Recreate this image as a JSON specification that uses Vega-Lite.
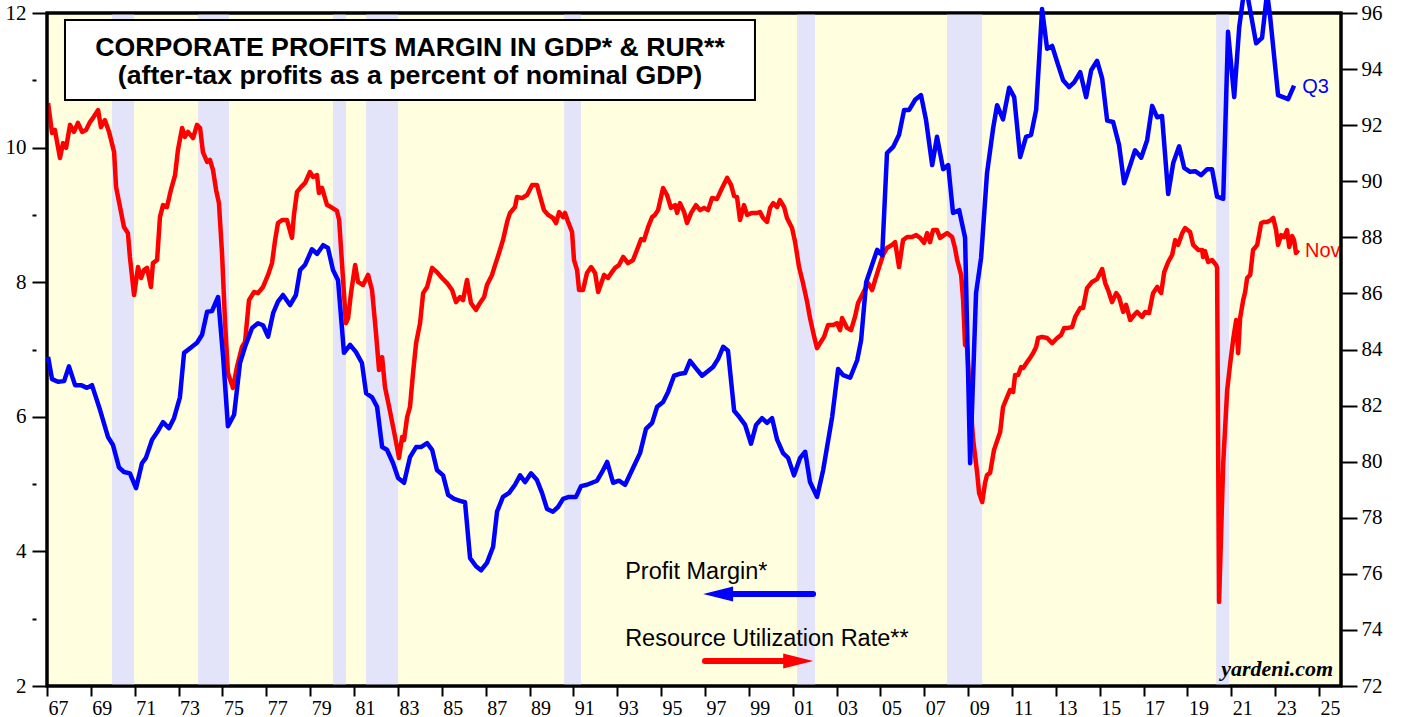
{
"$schema": "https://vega.github.io/schema/vega-lite/v6.json",
"width": 1294, "height": 673,
"autosize": {"type": "none"},
"padding": {"left": 47, "top": 13, "right": 62, "bottom": 31},
"background": "white",
"config": {"view": {"fill": "#ffffe0", "stroke": "black", "strokeWidth": 3}},
"datasets": {
"rec": [
{"start": 1969.96, "end": 1970.97},
{"start": 1973.89, "end": 1975.30},
{"start": 1980.04, "end": 1980.63},
{"start": 1981.55, "end": 1983.01},
{"start": 1990.58, "end": 1991.35},
{"start": 2001.20, "end": 2002.02},
{"start": 2008.04, "end": 2009.64},
{"start": 2020.31, "end": 2020.90}
],
"pm": [
{"t":1967.05,"v":6.89},{"t":1967.23,"v":6.56},{"t":1967.50,"v":6.52},{"t":1967.78,"v":6.53},{"t":1968.00,"v":6.75},{"t":1968.28,"v":6.47},{"t":1968.55,"v":6.47},{"t":1968.82,"v":6.43},{"t":1969.05,"v":6.47},{"t":1969.42,"v":6.10},{"t":1969.78,"v":5.70},{"t":1970.01,"v":5.58},{"t":1970.28,"v":5.25},{"t":1970.51,"v":5.18},{"t":1970.78,"v":5.16},{"t":1971.06,"v":4.94},{"t":1971.33,"v":5.31},{"t":1971.51,"v":5.39},{"t":1971.79,"v":5.66},{"t":1972.02,"v":5.77},{"t":1972.29,"v":5.92},{"t":1972.56,"v":5.83},{"t":1972.79,"v":5.98},{"t":1973.06,"v":6.29},{"t":1973.25,"v":6.95},{"t":1973.61,"v":7.04},{"t":1973.84,"v":7.10},{"t":1974.07,"v":7.22},{"t":1974.30,"v":7.56},{"t":1974.52,"v":7.57},{"t":1974.80,"v":7.78},{"t":1975.03,"v":6.89},{"t":1975.25,"v":5.86},{"t":1975.53,"v":6.03},{"t":1975.80,"v":6.80},{"t":1976.03,"v":7.04},{"t":1976.35,"v":7.32},{"t":1976.62,"v":7.39},{"t":1976.85,"v":7.36},{"t":1977.08,"v":7.19},{"t":1977.31,"v":7.54},{"t":1977.53,"v":7.71},{"t":1977.76,"v":7.81},{"t":1978.08,"v":7.66},{"t":1978.35,"v":7.81},{"t":1978.54,"v":8.18},{"t":1978.77,"v":8.26},{"t":1979.08,"v":8.49},{"t":1979.31,"v":8.42},{"t":1979.59,"v":8.55},{"t":1979.81,"v":8.51},{"t":1980.04,"v":8.18},{"t":1980.27,"v":8.03},{"t":1980.54,"v":6.95},{"t":1980.82,"v":7.07},{"t":1981.09,"v":6.96},{"t":1981.36,"v":6.80},{"t":1981.55,"v":6.35},{"t":1981.82,"v":6.29},{"t":1982.05,"v":6.15},{"t":1982.28,"v":5.55},{"t":1982.50,"v":5.51},{"t":1982.78,"v":5.31},{"t":1983.01,"v":5.09},{"t":1983.28,"v":5.02},{"t":1983.55,"v":5.40},{"t":1983.83,"v":5.55},{"t":1984.05,"v":5.55},{"t":1984.33,"v":5.61},{"t":1984.56,"v":5.51},{"t":1984.78,"v":5.21},{"t":1985.06,"v":5.13},{"t":1985.29,"v":4.84},{"t":1985.56,"v":4.78},{"t":1985.83,"v":4.75},{"t":1986.06,"v":4.73},{"t":1986.29,"v":3.90},{"t":1986.56,"v":3.78},{"t":1986.79,"v":3.72},{"t":1987.06,"v":3.83},{"t":1987.34,"v":4.07},{"t":1987.52,"v":4.59},{"t":1987.79,"v":4.81},{"t":1988.07,"v":4.87},{"t":1988.34,"v":4.99},{"t":1988.57,"v":5.13},{"t":1988.80,"v":5.03},{"t":1989.07,"v":5.16},{"t":1989.34,"v":5.06},{"t":1989.57,"v":4.87},{"t":1989.80,"v":4.63},{"t":1990.07,"v":4.59},{"t":1990.30,"v":4.66},{"t":1990.53,"v":4.78},{"t":1990.80,"v":4.81},{"t":1991.12,"v":4.81},{"t":1991.35,"v":4.97},{"t":1991.62,"v":4.99},{"t":1991.85,"v":5.02},{"t":1992.08,"v":5.05},{"t":1992.31,"v":5.18},{"t":1992.54,"v":5.33},{"t":1992.81,"v":5.02},{"t":1993.08,"v":5.05},{"t":1993.36,"v":4.99},{"t":1993.72,"v":5.24},{"t":1994.04,"v":5.46},{"t":1994.31,"v":5.82},{"t":1994.59,"v":5.91},{"t":1994.82,"v":6.15},{"t":1995.09,"v":6.22},{"t":1995.32,"v":6.37},{"t":1995.59,"v":6.61},{"t":1995.87,"v":6.64},{"t":1996.09,"v":6.65},{"t":1996.32,"v":6.83},{"t":1996.59,"v":6.72},{"t":1996.87,"v":6.61},{"t":1997.10,"v":6.67},{"t":1997.37,"v":6.74},{"t":1997.60,"v":6.86},{"t":1997.83,"v":7.04},{"t":1998.05,"v":6.98},{"t":1998.33,"v":6.09},{"t":1998.56,"v":6.00},{"t":1998.83,"v":5.88},{"t":1999.10,"v":5.60},{"t":1999.33,"v":5.88},{"t":1999.60,"v":5.98},{"t":1999.83,"v":5.91},{"t":2000.06,"v":5.98},{"t":2000.29,"v":5.66},{"t":2000.56,"v":5.46},{"t":2000.79,"v":5.39},{"t":2001.06,"v":5.13},{"t":2001.34,"v":5.39},{"t":2001.57,"v":5.48},{"t":2001.79,"v":5.03},{"t":2002.11,"v":4.81},{"t":2002.39,"v":5.21},{"t":2002.80,"v":6.00},{"t":2003.07,"v":6.71},{"t":2003.30,"v":6.62},{"t":2003.62,"v":6.58},{"t":2003.94,"v":6.84},{"t":2004.12,"v":7.14},{"t":2004.35,"v":8.00},{"t":2004.85,"v":8.48},{"t":2005.08,"v":8.40},{"t":2005.30,"v":9.92},{"t":2005.58,"v":10.01},{"t":2005.85,"v":10.19},{"t":2006.08,"v":10.56},{"t":2006.31,"v":10.56},{"t":2006.58,"v":10.71},{"t":2006.85,"v":10.78},{"t":2007.08,"v":10.41},{"t":2007.36,"v":9.74},{"t":2007.58,"v":10.16},{"t":2007.86,"v":9.68},{"t":2008.09,"v":9.74},{"t":2008.31,"v":9.03},{"t":2008.59,"v":9.07},{"t":2008.86,"v":8.66},{"t":2009.09,"v":5.31},{"t":2009.36,"v":7.84},{"t":2009.59,"v":8.36},{"t":2009.86,"v":9.62},{"t":2010.14,"v":10.29},{"t":2010.32,"v":10.63},{"t":2010.59,"v":10.42},{"t":2010.87,"v":10.89},{"t":2011.10,"v":10.75},{"t":2011.37,"v":9.86},{"t":2011.64,"v":10.16},{"t":2011.87,"v":10.19},{"t":2012.10,"v":10.56},{"t":2012.37,"v":12.06},{"t":2012.60,"v":11.47},{"t":2012.83,"v":11.51},{"t":2013.10,"v":11.23},{"t":2013.33,"v":11.00},{"t":2013.60,"v":10.90},{"t":2013.83,"v":10.97},{"t":2014.11,"v":11.12},{"t":2014.38,"v":10.75},{"t":2014.61,"v":11.15},{"t":2014.88,"v":11.29},{"t":2015.11,"v":11.03},{"t":2015.34,"v":10.40},{"t":2015.61,"v":10.38},{"t":2015.88,"v":10.04},{"t":2016.11,"v":9.47},{"t":2016.39,"v":9.74},{"t":2016.61,"v":9.96},{"t":2016.89,"v":9.85},{"t":2017.16,"v":10.11},{"t":2017.39,"v":10.62},{"t":2017.62,"v":10.45},{"t":2017.84,"v":10.47},{"t":2018.12,"v":9.31},{"t":2018.35,"v":9.77},{"t":2018.62,"v":10.02},{"t":2018.85,"v":9.70},{"t":2019.12,"v":9.64},{"t":2019.35,"v":9.65},{"t":2019.62,"v":9.59},{"t":2019.90,"v":9.68},{"t":2020.12,"v":9.68},{"t":2020.35,"v":9.27},{"t":2020.63,"v":9.24},{"t":2020.85,"v":11.72},{"t":2021.13,"v":10.75},{"t":2021.36,"v":11.79},{"t":2021.63,"v":12.45},{"t":2021.86,"v":12.04},{"t":2022.13,"v":11.55},{"t":2022.40,"v":11.63},{"t":2022.63,"v":12.30},{"t":2022.77,"v":11.94},{"t":2023.13,"v":10.78},{"t":2023.36,"v":10.75},{"t":2023.59,"v":10.72},{"t":2023.86,"v":10.92}
],
"rur": [
{"t":1967.05,"v":92.79},{"t":1967.23,"v":91.72},{"t":1967.36,"v":91.83},{"t":1967.59,"v":90.83},{"t":1967.73,"v":91.36},{"t":1967.87,"v":91.19},{"t":1968.05,"v":92.01},{"t":1968.23,"v":91.76},{"t":1968.41,"v":92.08},{"t":1968.60,"v":91.76},{"t":1968.78,"v":91.83},{"t":1968.96,"v":92.11},{"t":1969.10,"v":92.26},{"t":1969.33,"v":92.54},{"t":1969.46,"v":91.93},{"t":1969.64,"v":92.18},{"t":1969.83,"v":91.76},{"t":1970.06,"v":91.04},{"t":1970.15,"v":89.79},{"t":1970.33,"v":89.08},{"t":1970.51,"v":88.37},{"t":1970.69,"v":88.15},{"t":1970.78,"v":87.30},{"t":1970.97,"v":85.94},{"t":1971.15,"v":86.94},{"t":1971.29,"v":86.55},{"t":1971.42,"v":86.83},{"t":1971.56,"v":86.91},{"t":1971.74,"v":86.23},{"t":1971.83,"v":87.08},{"t":1972.02,"v":87.19},{"t":1972.15,"v":88.72},{"t":1972.29,"v":89.15},{"t":1972.47,"v":89.08},{"t":1972.65,"v":89.69},{"t":1972.84,"v":90.22},{"t":1972.97,"v":91.11},{"t":1973.16,"v":91.90},{"t":1973.29,"v":91.58},{"t":1973.43,"v":91.76},{"t":1973.66,"v":91.54},{"t":1973.84,"v":92.01},{"t":1973.98,"v":91.90},{"t":1974.11,"v":91.04},{"t":1974.30,"v":90.69},{"t":1974.43,"v":90.76},{"t":1974.57,"v":90.40},{"t":1974.71,"v":89.69},{"t":1974.84,"v":89.22},{"t":1974.98,"v":87.44},{"t":1975.12,"v":84.94},{"t":1975.25,"v":83.16},{"t":1975.48,"v":82.63},{"t":1975.66,"v":83.37},{"t":1975.89,"v":84.09},{"t":1976.03,"v":84.27},{"t":1976.21,"v":85.76},{"t":1976.44,"v":86.05},{"t":1976.62,"v":86.01},{"t":1976.85,"v":86.23},{"t":1977.08,"v":86.66},{"t":1977.26,"v":87.08},{"t":1977.40,"v":87.90},{"t":1977.53,"v":88.51},{"t":1977.72,"v":88.62},{"t":1977.94,"v":88.62},{"t":1978.17,"v":87.98},{"t":1978.26,"v":88.80},{"t":1978.40,"v":89.62},{"t":1978.58,"v":89.79},{"t":1978.77,"v":89.94},{"t":1978.99,"v":90.33},{"t":1979.13,"v":90.15},{"t":1979.31,"v":90.22},{"t":1979.40,"v":89.58},{"t":1979.54,"v":89.76},{"t":1979.77,"v":89.15},{"t":1979.95,"v":89.08},{"t":1980.22,"v":88.94},{"t":1980.32,"v":88.62},{"t":1980.50,"v":86.48},{"t":1980.63,"v":84.94},{"t":1980.73,"v":85.12},{"t":1980.86,"v":86.01},{"t":1981.05,"v":87.01},{"t":1981.18,"v":86.41},{"t":1981.41,"v":86.30},{"t":1981.64,"v":86.66},{"t":1981.82,"v":86.12},{"t":1982.00,"v":84.59},{"t":1982.14,"v":83.27},{"t":1982.28,"v":83.73},{"t":1982.41,"v":82.66},{"t":1982.60,"v":81.95},{"t":1982.78,"v":81.24},{"t":1982.96,"v":80.52},{"t":1983.05,"v":80.13},{"t":1983.19,"v":80.88},{"t":1983.28,"v":80.77},{"t":1983.42,"v":81.59},{"t":1983.55,"v":81.95},{"t":1983.69,"v":83.16},{"t":1983.83,"v":84.23},{"t":1984.01,"v":84.94},{"t":1984.15,"v":86.01},{"t":1984.33,"v":86.23},{"t":1984.56,"v":86.91},{"t":1984.78,"v":86.76},{"t":1985.01,"v":86.55},{"t":1985.24,"v":86.37},{"t":1985.47,"v":86.12},{"t":1985.65,"v":85.69},{"t":1985.83,"v":85.87},{"t":1985.97,"v":85.76},{"t":1986.15,"v":86.48},{"t":1986.33,"v":85.66},{"t":1986.56,"v":85.41},{"t":1986.74,"v":85.66},{"t":1986.93,"v":85.87},{"t":1987.06,"v":86.30},{"t":1987.29,"v":86.66},{"t":1987.43,"v":87.01},{"t":1987.61,"v":87.44},{"t":1987.79,"v":87.90},{"t":1987.98,"v":88.55},{"t":1988.11,"v":88.87},{"t":1988.34,"v":89.08},{"t":1988.43,"v":89.44},{"t":1988.66,"v":89.40},{"t":1988.89,"v":89.51},{"t":1989.12,"v":89.87},{"t":1989.34,"v":89.87},{"t":1989.53,"v":89.33},{"t":1989.66,"v":88.97},{"t":1989.85,"v":88.80},{"t":1990.07,"v":88.69},{"t":1990.21,"v":88.51},{"t":1990.35,"v":88.90},{"t":1990.53,"v":88.72},{"t":1990.62,"v":88.87},{"t":1990.76,"v":88.55},{"t":1990.94,"v":88.19},{"t":1991.03,"v":87.19},{"t":1991.17,"v":86.83},{"t":1991.26,"v":86.12},{"t":1991.44,"v":86.12},{"t":1991.62,"v":86.73},{"t":1991.81,"v":86.94},{"t":1991.99,"v":86.73},{"t":1992.13,"v":86.05},{"t":1992.40,"v":86.66},{"t":1992.58,"v":86.55},{"t":1992.76,"v":86.76},{"t":1992.90,"v":86.91},{"t":1993.08,"v":87.01},{"t":1993.27,"v":87.30},{"t":1993.49,"v":87.08},{"t":1993.72,"v":87.19},{"t":1993.90,"v":87.55},{"t":1994.09,"v":87.94},{"t":1994.22,"v":87.90},{"t":1994.41,"v":88.37},{"t":1994.59,"v":88.72},{"t":1994.72,"v":88.80},{"t":1994.86,"v":88.97},{"t":1995.09,"v":89.76},{"t":1995.27,"v":89.51},{"t":1995.45,"v":89.05},{"t":1995.64,"v":89.15},{"t":1995.73,"v":88.87},{"t":1995.86,"v":89.22},{"t":1996.05,"v":88.90},{"t":1996.18,"v":88.51},{"t":1996.37,"v":88.87},{"t":1996.59,"v":89.15},{"t":1996.78,"v":88.97},{"t":1996.96,"v":89.05},{"t":1997.14,"v":88.97},{"t":1997.32,"v":89.40},{"t":1997.55,"v":89.37},{"t":1997.78,"v":89.76},{"t":1998.01,"v":90.12},{"t":1998.19,"v":89.87},{"t":1998.33,"v":89.47},{"t":1998.46,"v":89.44},{"t":1998.60,"v":88.62},{"t":1998.78,"v":89.15},{"t":1998.92,"v":88.80},{"t":1999.15,"v":88.87},{"t":1999.38,"v":88.87},{"t":1999.51,"v":88.90},{"t":1999.65,"v":88.69},{"t":1999.83,"v":88.55},{"t":1999.97,"v":89.05},{"t":2000.11,"v":89.22},{"t":2000.29,"v":89.08},{"t":2000.42,"v":89.33},{"t":2000.61,"v":89.08},{"t":2000.74,"v":88.69},{"t":2000.97,"v":88.33},{"t":2001.11,"v":87.83},{"t":2001.29,"v":86.94},{"t":2001.47,"v":86.37},{"t":2001.66,"v":85.69},{"t":2001.79,"v":85.12},{"t":2001.98,"v":84.45},{"t":2002.11,"v":84.05},{"t":2002.25,"v":84.23},{"t":2002.43,"v":84.45},{"t":2002.61,"v":84.87},{"t":2002.84,"v":84.87},{"t":2003.02,"v":84.94},{"t":2003.16,"v":84.69},{"t":2003.25,"v":85.12},{"t":2003.48,"v":84.77},{"t":2003.66,"v":84.69},{"t":2003.84,"v":85.16},{"t":2003.98,"v":85.66},{"t":2004.21,"v":86.01},{"t":2004.44,"v":86.37},{"t":2004.62,"v":86.12},{"t":2004.76,"v":86.48},{"t":2004.94,"v":86.94},{"t":2005.12,"v":87.37},{"t":2005.30,"v":87.62},{"t":2005.53,"v":87.73},{"t":2005.67,"v":87.83},{"t":2005.85,"v":86.94},{"t":2006.03,"v":87.90},{"t":2006.22,"v":88.01},{"t":2006.44,"v":88.01},{"t":2006.63,"v":88.08},{"t":2006.81,"v":87.98},{"t":2006.99,"v":87.80},{"t":2007.13,"v":88.15},{"t":2007.26,"v":87.83},{"t":2007.40,"v":88.26},{"t":2007.58,"v":88.26},{"t":2007.72,"v":87.98},{"t":2007.90,"v":88.08},{"t":2008.04,"v":88.15},{"t":2008.27,"v":88.01},{"t":2008.40,"v":87.62},{"t":2008.50,"v":87.19},{"t":2008.68,"v":86.66},{"t":2008.77,"v":85.76},{"t":2008.86,"v":84.16},{"t":2008.95,"v":84.09},{"t":2009.09,"v":82.20},{"t":2009.23,"v":80.77},{"t":2009.41,"v":79.60},{"t":2009.50,"v":78.88},{"t":2009.64,"v":78.56},{"t":2009.77,"v":79.24},{"t":2009.86,"v":79.52},{"t":2010.00,"v":79.60},{"t":2010.18,"v":80.42},{"t":2010.46,"v":81.06},{"t":2010.59,"v":81.95},{"t":2010.78,"v":82.31},{"t":2010.91,"v":82.55},{"t":2011.05,"v":82.48},{"t":2011.14,"v":83.09},{"t":2011.28,"v":83.09},{"t":2011.41,"v":83.37},{"t":2011.51,"v":83.34},{"t":2011.69,"v":83.55},{"t":2011.82,"v":83.70},{"t":2011.96,"v":83.87},{"t":2012.10,"v":84.09},{"t":2012.19,"v":84.41},{"t":2012.37,"v":84.45},{"t":2012.60,"v":84.41},{"t":2012.83,"v":84.23},{"t":2013.06,"v":84.41},{"t":2013.24,"v":84.52},{"t":2013.38,"v":84.77},{"t":2013.56,"v":84.77},{"t":2013.74,"v":84.80},{"t":2013.88,"v":85.16},{"t":2014.11,"v":85.48},{"t":2014.24,"v":85.48},{"t":2014.42,"v":86.19},{"t":2014.65,"v":86.41},{"t":2014.88,"v":86.51},{"t":2015.11,"v":86.87},{"t":2015.25,"v":86.37},{"t":2015.38,"v":86.12},{"t":2015.56,"v":85.69},{"t":2015.75,"v":86.01},{"t":2015.88,"v":85.87},{"t":2016.07,"v":85.34},{"t":2016.20,"v":85.59},{"t":2016.39,"v":85.05},{"t":2016.57,"v":85.23},{"t":2016.70,"v":85.34},{"t":2016.93,"v":85.16},{"t":2017.07,"v":85.34},{"t":2017.25,"v":85.30},{"t":2017.43,"v":86.01},{"t":2017.62,"v":86.23},{"t":2017.80,"v":86.01},{"t":2017.94,"v":86.76},{"t":2018.12,"v":87.12},{"t":2018.30,"v":87.37},{"t":2018.44,"v":87.90},{"t":2018.57,"v":87.73},{"t":2018.76,"v":88.15},{"t":2018.89,"v":88.33},{"t":2019.12,"v":88.19},{"t":2019.26,"v":87.73},{"t":2019.49,"v":87.55},{"t":2019.67,"v":87.55},{"t":2019.71,"v":87.30},{"t":2019.80,"v":87.51},{"t":2019.94,"v":87.12},{"t":2020.12,"v":87.19},{"t":2020.31,"v":87.01},{"t":2020.35,"v":86.91},{"t":2020.44,"v":75.00},{"t":2020.63,"v":79.95},{"t":2020.81,"v":82.55},{"t":2020.95,"v":83.52},{"t":2021.08,"v":84.34},{"t":2021.22,"v":85.05},{"t":2021.31,"v":83.87},{"t":2021.40,"v":85.12},{"t":2021.54,"v":85.76},{"t":2021.63,"v":86.05},{"t":2021.72,"v":86.55},{"t":2021.86,"v":86.66},{"t":2021.99,"v":87.55},{"t":2022.18,"v":87.73},{"t":2022.36,"v":88.51},{"t":2022.50,"v":88.55},{"t":2022.63,"v":88.55},{"t":2022.81,"v":88.62},{"t":2022.91,"v":88.69},{"t":2023.04,"v":88.26},{"t":2023.13,"v":87.73},{"t":2023.27,"v":88.08},{"t":2023.41,"v":88.01},{"t":2023.54,"v":88.26},{"t":2023.64,"v":87.66},{"t":2023.77,"v":88.05},{"t":2023.86,"v":87.90},{"t":2023.95,"v":87.44},{"t":2024.05,"v":87.55}
]
},
"layer": [
{
"data": {"name": "rec"},
"mark": {"type": "rect", "color": "#e3e3fa"},
"encoding": {
"x": {"field": "start", "type": "quantitative",
"scale": {"domain": [1967, 2026], "nice": false, "zero": false},
"axis": {
"values": [1967,1968,1969,1970,1971,1972,1973,1974,1975,1976,1977,1978,1979,1980,1981,1982,1983,1984,1985,1986,1987,1988,1989,1990,1991,1992,1993,1994,1995,1996,1997,1998,1999,2000,2001,2002,2003,2004,2005,2006,2007,2008,2009,2010,2011,2012,2013,2014,2015,2016,2017,2018,2019,2020,2021,2022,2023,2024,2025,2026],
"labelExpr": "datum.value % 2 == 1 && datum.value < 2026 ? substring(toString(datum.value), 2, 4) : ''",
"labelOffset": 11, "tickSize": 10, "tickWidth": 2, "tickColor": "black",
"labelFont": "Liberation Serif", "labelFontSize": 20, "labelColor": "black",
"labelPadding": 2, "domain": false, "grid": false, "title": null,
"labelFlush": false, "labelOverlap": false, "labelBound": false}},
"x2": {"field": "end"}
}
},
{
"layer": [
{
"data": {"name": "rur"},
"mark": {"type": "line", "color": "#ff0000", "strokeWidth": 4.5, "strokeJoin": "round"},
"encoding": {
"x": {"field": "t", "type": "quantitative", "scale": {"domain": [1967, 2026], "nice": false, "zero": false}, "axis": {"title": null}},
"y": {"field": "v", "type": "quantitative", "scale": {"domain": [72, 96], "nice": false, "zero": false},
"axis": {"orient": "right",
"values": [72,73,74,75,76,77,78,79,80,81,82,83,84,85,86,87,88,89,90,91,92,93,94,95,96],
"labelExpr": "datum.value % 2 == 0 ? toString(datum.value) : ''",
"tickSize": 16, "tickWidth": 2, "tickColor": "black",
"tickDash": {"condition": {"test": "datum.value % 2 == 1", "value": [8, 100]}, "value": [100, 0]},
"labelFont": "Liberation Serif", "labelFontSize": 21, "labelColor": "black", "labelPadding": 4,
"domain": false, "grid": false, "title": null, "labelOverlap": false, "labelFlush": false, "labelBound": false}}
}
},
{
"data": {"values": [{}]},
"mark": {"type": "text", "text": "Nov", "align": "left", "baseline": "alphabetic", "font": "Liberation Sans", "fontSize": 20, "color": "#ff0000"},
"encoding": {
"x": {"datum": 2024.36, "type": "quantitative", "axis": {"title": null}},
"y": {"datum": 87.3, "type": "quantitative", "axis": {"title": null}}
}
}
]
},
{
"layer": [
{
"data": {"values": [{}]},
"mark": {"type": "rect", "fillOpacity": 0, "stroke": "black", "strokeWidth": 3},
"encoding": {
"x": {"datum": 1967, "type": "quantitative", "axis": {"title": null}},
"x2": {"datum": 2026},
"y": {"datum": 12, "type": "quantitative", "axis": {"title": null}},
"y2": {"datum": 2}
}
},
{
"data": {"name": "pm"},
"mark": {"type": "line", "color": "#0000ff", "strokeWidth": 4.5, "strokeJoin": "round"},
"encoding": {
"x": {"field": "t", "type": "quantitative", "scale": {"domain": [1967, 2026], "nice": false, "zero": false}, "axis": {"title": null}},
"y": {"field": "v", "type": "quantitative", "scale": {"domain": [2, 12], "nice": false, "zero": false},
"axis": {"orient": "left",
"values": [2,3,4,5,6,7,8,9,10,11,12],
"labelExpr": "datum.value % 2 == 0 ? toString(datum.value) : ''",
"tickSize": 15, "tickWidth": 2, "tickColor": "black",
"tickDash": {"condition": {"test": "datum.value % 2 == 1", "value": [0, 11, 4, 100]}, "value": [100, 0]},
"labelFont": "Liberation Serif", "labelFontSize": 21, "labelColor": "black", "labelPadding": 6,
"domain": false, "grid": false, "title": null, "labelOverlap": false, "labelFlush": false, "labelBound": false}}
}
},
{
"data": {"values": [{}]},
"mark": {"type": "rect", "fill": "white", "stroke": "black", "strokeWidth": 2},
"encoding": {
"x": {"datum": 1967.82, "type": "quantitative", "axis": {"title": null}},
"x2": {"datum": 1999.28},
"y": {"datum": 11.896, "type": "quantitative", "axis": {"title": null}},
"y2": {"datum": 10.707}
}
},
{
"data": {"values": [{}]},
"mark": {"type": "text", "text": "CORPORATE PROFITS MARGIN IN GDP* & RUR**", "align": "center", "baseline": "alphabetic", "font": "Liberation Sans", "fontWeight": "bold", "fontSize": 26.7, "color": "black"},
"encoding": {
"x": {"datum": 1983.55, "type": "quantitative", "axis": {"title": null}},
"y": {"datum": 11.361, "type": "quantitative", "axis": {"title": null}}
}
},
{
"data": {"values": [{}]},
"mark": {"type": "text", "text": "(after-tax profits as a percent of nominal GDP)", "align": "center", "baseline": "alphabetic", "font": "Liberation Sans", "fontWeight": "bold", "fontSize": 26.7, "color": "black"},
"encoding": {
"x": {"datum": 1983.55, "type": "quantitative", "axis": {"title": null}},
"y": {"datum": 10.945, "type": "quantitative", "axis": {"title": null}}
}
},
{
"data": {"values": [{}]},
"mark": {"type": "text", "text": "Profit Margin*", "align": "left", "baseline": "alphabetic", "font": "Liberation Sans", "fontSize": 23.5, "color": "black"},
"encoding": {
"x": {"datum": 1993.36, "type": "quantitative", "axis": {"title": null}},
"y": {"datum": 3.59, "type": "quantitative", "axis": {"title": null}}
}
},
{
"data": {"values": [{}]},
"mark": {"type": "text", "text": "Resource Utilization Rate**", "align": "left", "baseline": "alphabetic", "font": "Liberation Sans", "fontSize": 23.5, "color": "black"},
"encoding": {
"x": {"datum": 1993.36, "type": "quantitative", "axis": {"title": null}},
"y": {"datum": 2.594, "type": "quantitative", "axis": {"title": null}}
}
},
{
"data": {"values": [{}]},
"mark": {"type": "rule", "color": "#0000ff", "strokeWidth": 6, "strokeCap": "round"},
"encoding": {
"x": {"datum": 1997.6, "type": "quantitative", "axis": {"title": null}},
"x2": {"datum": 2001.93},
"y": {"datum": 3.367, "type": "quantitative", "axis": {"title": null}}
}
},
{
"data": {"values": [{}]},
"mark": {"type": "point", "shape": "M -1 0 L 1 -0.5 L 1 0.5 Z", "filled": true, "size": 900, "color": "#0000ff", "opacity": 1, "strokeWidth": 0},
"encoding": {
"x": {"datum": 1997.6, "type": "quantitative", "axis": {"title": null}},
"y": {"datum": 3.367, "type": "quantitative", "axis": {"title": null}}
}
},
{
"data": {"values": [{}]},
"mark": {"type": "rule", "color": "#ff0000", "strokeWidth": 6, "strokeCap": "round"},
"encoding": {
"x": {"datum": 1997.0, "type": "quantitative", "axis": {"title": null}},
"x2": {"datum": 2001.25},
"y": {"datum": 2.372, "type": "quantitative", "axis": {"title": null}}
}
},
{
"data": {"values": [{}]},
"mark": {"type": "point", "shape": "M 1 0 L -1 -0.5 L -1 0.5 Z", "filled": true, "size": 900, "color": "#ff0000", "opacity": 1, "strokeWidth": 0},
"encoding": {
"x": {"datum": 2001.25, "type": "quantitative", "axis": {"title": null}},
"y": {"datum": 2.372, "type": "quantitative", "axis": {"title": null}}
}
},
{
"data": {"values": [{}]},
"mark": {"type": "text", "text": "Q3", "align": "left", "baseline": "alphabetic", "font": "Liberation Sans", "fontSize": 20, "color": "#0000ff"},
"encoding": {
"x": {"datum": 2024.23, "type": "quantitative", "axis": {"title": null}},
"y": {"datum": 10.81, "type": "quantitative", "axis": {"title": null}}
}
},
{
"data": {"values": [{}]},
"mark": {"type": "text", "text": "yardeni.com", "align": "right", "baseline": "alphabetic", "font": "Liberation Serif", "fontWeight": "bold", "fontStyle": "italic", "fontSize": 22, "color": "black"},
"encoding": {
"x": {"datum": 2025.64, "type": "quantitative", "axis": {"title": null}},
"y": {"datum": 2.15, "type": "quantitative", "axis": {"title": null}}
}
}
]
}
],
"resolve": {"scale": {"y": "independent"}}
}
